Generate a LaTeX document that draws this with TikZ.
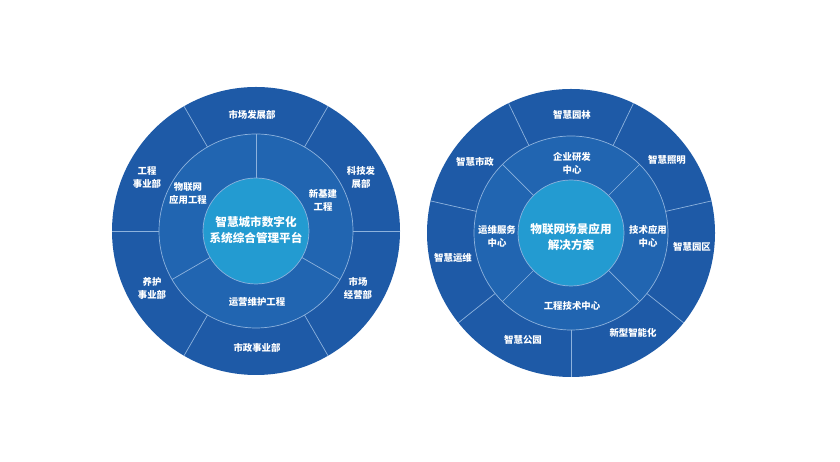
\documentclass[tikz,border=0pt]{standalone}
\usepackage{fontspec}
\newfontfamily\cjk{Noto Sans CJK SC}
\definecolor{ringout}{HTML}{1E5AA7}
\definecolor{ringmid}{HTML}{2165B1}
\definecolor{hubblue}{HTML}{239BD1}
\definecolor{seamcol}{HTML}{8DB2DD}
\tikzset{
  seam/.style={draw=seamcol,line width=0.7pt},
  hubtext/.style={text=white,align=center,font=\cjk\bfseries\fontsize{11.6}{16}\selectfont},
  ringtext/.style={text=white,align=center,font=\cjk\bfseries\fontsize{9.4}{13}\selectfont},
}

\begin{document}
\begin{tikzpicture}[x=1pt,y=1pt]
  \useasboundingbox (0,0) rectangle (840,462);

  % left wheel: city platform
  \begin{scope}[shift={(256,231)}]
    \fill[ringout] (0,0) circle (144);
    \filldraw[fill=ringmid,seam] (0,0) circle (97);
    \filldraw[fill=hubblue,seam] (0,0) circle (53);

    % inner ring, three parts
    \draw[seam] (90:53) -- (90:97);
    \draw[seam] (210:53) -- (210:97);
    \draw[seam] (330:53) -- (330:97);
    % outer ring, six parts
    \draw[seam] (0:97) -- (0:144);
    \draw[seam] (60:97) -- (60:144);
    \draw[seam] (120:97) -- (120:144);
    \draw[seam] (180:97) -- (180:144);
    \draw[seam] (240:97) -- (240:144);
    \draw[seam] (300:97) -- (300:144);

    \node[hubtext] (cityhub) at (0,1) {智慧城市数字化\\系统综合管理平台};

    \node[ringtext] (iotproj) at (-68,38) {物联网\\应用工程};
    \node[ringtext] (newinfra) at (67,31) {新基建\\工程};
    \node[ringtext] (opsmaint) at (1,-71) {运营维护工程};

    \node[ringtext] (mktdev) at (-4,116) {市场发展部};
    \node[ringtext] (techdev) at (105,54) {科技发\\展部};
    \node[ringtext] (mktops) at (102,-57) {市场\\经营部};
    \node[ringtext] (municipal) at (1,-117) {市政事业部};
    \node[ringtext] (upkeep) at (-104,-57) {养护\\事业部};
    \node[ringtext] (engdept) at (-109,54) {工程\\事业部};
  \end{scope}

  % right wheel: iot solutions
  \begin{scope}[shift={(571,229)}]
    \fill[ringout] (0,0) circle (144);
    \filldraw[fill=ringmid,seam] (0,0) circle (97);
    \filldraw[fill=hubblue,seam] (0,0) circle (53);

    % inner ring, four parts
    \draw[seam] (45:53) -- (45:97);
    \draw[seam] (135:53) -- (135:97);
    \draw[seam] (225:53) -- (225:97);
    \draw[seam] (315:53) -- (315:97);
    % outer ring, seven parts
    \draw[seam] (270:97) -- (270:144);
    \draw[seam] (321.43:97) -- (321.43:144);
    \draw[seam] (12.86:97) -- (12.86:144);
    \draw[seam] (64.29:97) -- (64.29:144);
    \draw[seam] (115.71:97) -- (115.71:144);
    \draw[seam] (167.14:97) -- (167.14:144);
    \draw[seam] (218.57:97) -- (218.57:144);

    \node[hubtext] (iothub) at (0,-4) {物联网场景应用\\解决方案};

    \node[ringtext] (rdcenter) at (1,70) {企业研发\\中心};
    \node[ringtext] (techapp) at (77,-3) {技术应用\\中心};
    \node[ringtext] (engtech) at (1,-73) {工程技术中心};
    \node[ringtext] (opssvc) at (-74,-3) {运维服务\\中心};

    \node[ringtext] (garden) at (1,118) {智慧园林};
    \node[ringtext] (lighting) at (96,73) {智慧照明};
    \node[ringtext] (campus) at (121,-14) {智慧园区};
    \node[ringtext] (newsmart) at (62,-100) {新型智能化};
    \node[ringtext] (park) at (-48,-107) {智慧公园};
    \node[ringtext] (smartops) at (-118,-25) {智慧运维};
    \node[ringtext] (cityadmin) at (-96,71) {智慧市政};
  \end{scope}
\end{tikzpicture}
\end{document}
